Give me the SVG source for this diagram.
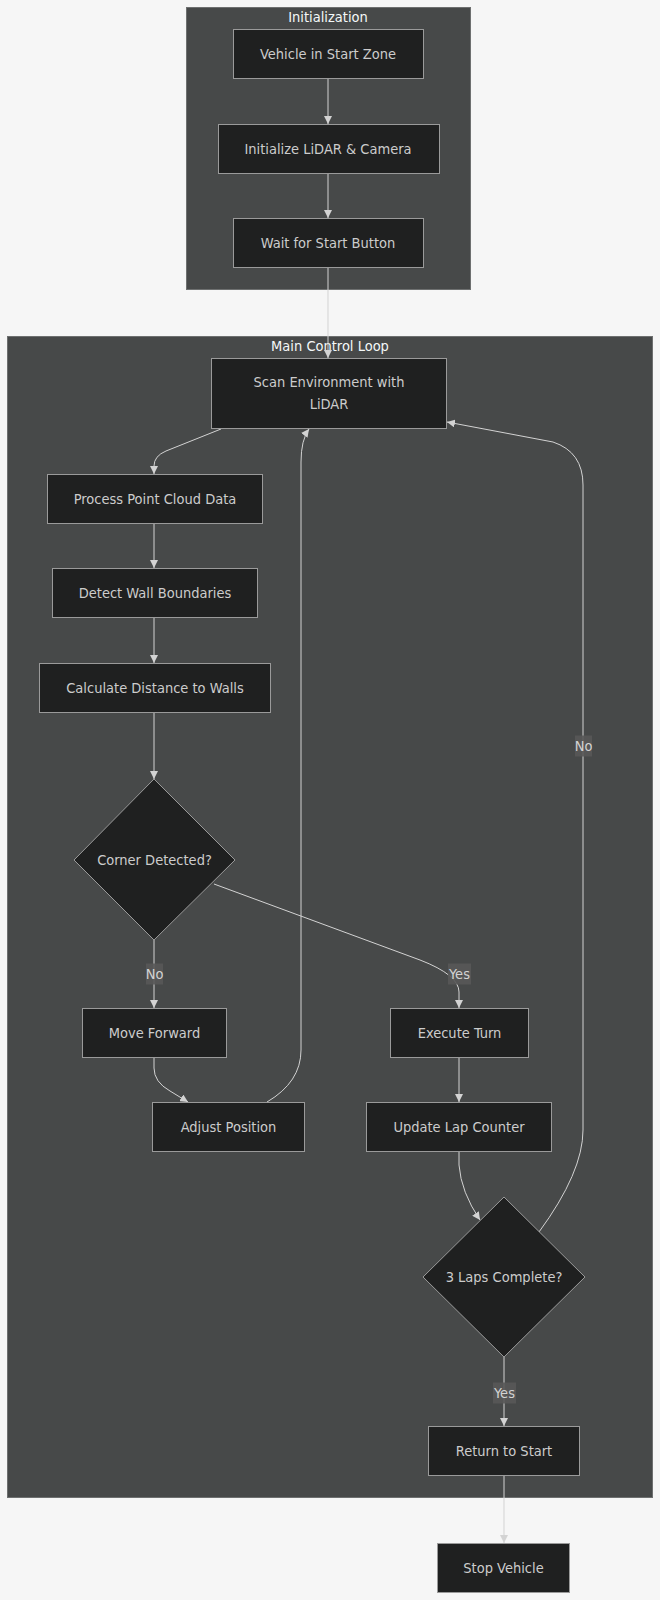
<svg xmlns="http://www.w3.org/2000/svg" width="660" height="1600" viewBox="0 0 660 1600">
<defs>
<style>
.bg{fill:#f6f6f6}
.cluster{fill:#474949;stroke:#6e7070;stroke-width:1}
.ctitle{font-family:"DejaVu Sans Condensed","DejaVu Sans",sans-serif;font-size:14.5px;fill:#f4f8f8;text-anchor:middle;dominant-baseline:central}
.node{fill:#1f2020;stroke:#9a9a9a;stroke-width:1}
.lbl{font-family:"DejaVu Sans Condensed","DejaVu Sans",sans-serif;font-size:14.5px;fill:#cccccc;text-anchor:middle;dominant-baseline:central}
.edge{fill:none;stroke:#d3d3d3;stroke-width:1;marker-end:url(#arrow)}
.elbg{fill:#585858;opacity:0.9}
.eltxt{font-family:"DejaVu Sans Condensed","DejaVu Sans",sans-serif;font-size:14.5px;fill:#d3d3d3;text-anchor:middle;dominant-baseline:central}
</style>
<marker id="arrow" viewBox="0 0 10 10" refX="10" refY="5" markerWidth="8" markerHeight="8" markerUnits="userSpaceOnUse" orient="auto">
<path d="M0,0 L10,5 L0,10 z" fill="#d3d3d3"/>
</marker>
</defs>
<rect class="bg" x="0" y="0" width="660" height="1600"/>

<g id="cluster-init">
<rect class="cluster" x="186.5" y="7.5" width="284" height="282"/>
<text class="ctitle" x="328" y="17">Initialization</text>
</g>
<g id="cluster-main">
<rect class="cluster" x="7.5" y="336.5" width="645" height="1161"/>
<text class="ctitle" x="330" y="346">Main Control Loop</text>
</g>

<g id="connectors">
<path class="edge" d="M328,79 L328,124"/>
<path class="edge" d="M328,173 L328,218"/>
<path class="edge" d="M328,267 L328,358"/>
<path class="edge" d="M221,429 L166,451 Q154,456 154,466 L154,474"/>
<path class="edge" d="M154,523 L154,568"/>
<path class="edge" d="M154,617 L154,663"/>
<path class="edge" d="M154,712 L154,779"/>
<path class="edge" d="M154,940 L154,1008"/>
<path class="edge" d="M214,884 L420,960 Q459,975 459,992 L459,1008"/>
<path class="edge" d="M154,1057 L154,1068 Q154,1082 170,1091 L188,1102"/>
<path class="edge" d="M267,1102 Q301,1082 301,1050 L301,462 Q301,440 309,429"/>
<path class="edge" d="M459,1057 L459,1102"/>
<path class="edge" d="M459,1151 L459,1165 Q461,1192 480,1220"/>
<path class="edge" d="M539,1232 Q583,1172 583,1130 L583,485 Q583,452 553,442 L447,422"/>
<path class="edge" d="M504,1357 L504,1426"/>
<path class="edge" d="M504,1475 L504,1543"/>
<g id="edge-labels">
<rect class="elbg" x="146" y="963.5" width="17" height="21"/>
<text class="eltxt" x="154.5" y="974">No</text>
<rect class="elbg" x="448" y="963.5" width="23" height="21"/>
<text class="eltxt" x="459.5" y="974">Yes</text>
<rect class="elbg" x="575" y="735.5" width="17" height="21"/>
<text class="eltxt" x="583.5" y="746">No</text>
<rect class="elbg" x="493" y="1382.5" width="23" height="21"/>
<text class="eltxt" x="504.5" y="1393">Yes</text>
</g>
</g>

<g id="node-vehicle">
<rect class="node" x="233.5" y="29.5" width="190" height="49"/>
<text class="lbl" x="328" y="54">Vehicle in Start Zone</text>
</g>
<g id="node-init">
<rect class="node" x="218.5" y="124.5" width="221" height="49"/>
<text class="lbl" x="328" y="149">Initialize LiDAR &amp; Camera</text>
</g>
<g id="node-wait">
<rect class="node" x="233.5" y="218.5" width="190" height="49"/>
<text class="lbl" x="328" y="243">Wait for Start Button</text>
</g>
<g id="node-scan">
<rect class="node" x="211.5" y="358.5" width="235" height="70"/>
<text class="lbl" x="329" y="382">Scan Environment with</text>
<text class="lbl" x="329" y="404">LiDAR</text>
</g>
<g id="node-process">
<rect class="node" x="47.5" y="474.5" width="215" height="49"/>
<text class="lbl" x="155" y="499">Process Point Cloud Data</text>
</g>
<g id="node-detect">
<rect class="node" x="52.5" y="568.5" width="205" height="49"/>
<text class="lbl" x="155" y="593">Detect Wall Boundaries</text>
</g>
<g id="node-calc">
<rect class="node" x="39.5" y="663.5" width="231" height="49"/>
<text class="lbl" x="155" y="688">Calculate Distance to Walls</text>
</g>
<g id="node-corner">
<polygon class="node" points="154,779 235,860 154,940 74,860"/>
<text class="lbl" x="154.5" y="860">Corner Detected?</text>
</g>
<g id="node-forward">
<rect class="node" x="82.5" y="1008.5" width="144" height="49"/>
<text class="lbl" x="154.5" y="1033">Move Forward</text>
</g>
<g id="node-turn">
<rect class="node" x="390.5" y="1008.5" width="138" height="49"/>
<text class="lbl" x="459.5" y="1033">Execute Turn</text>
</g>
<g id="node-adjust">
<rect class="node" x="152.5" y="1102.5" width="152" height="49"/>
<text class="lbl" x="228.5" y="1127">Adjust Position</text>
</g>
<g id="node-lap">
<rect class="node" x="366.5" y="1102.5" width="185" height="49"/>
<text class="lbl" x="459" y="1127">Update Lap Counter</text>
</g>
<g id="node-laps">
<polygon class="node" points="504,1197 585,1277 504,1357 423,1277"/>
<text class="lbl" x="504" y="1277">3 Laps Complete?</text>
</g>
<g id="node-return">
<rect class="node" x="428.5" y="1426.5" width="151" height="49"/>
<text class="lbl" x="504" y="1451">Return to Start</text>
</g>
<g id="node-stop">
<rect class="node" x="437.5" y="1543.5" width="132" height="49"/>
<text class="lbl" x="503.5" y="1568">Stop Vehicle</text>
</g>
</svg>
